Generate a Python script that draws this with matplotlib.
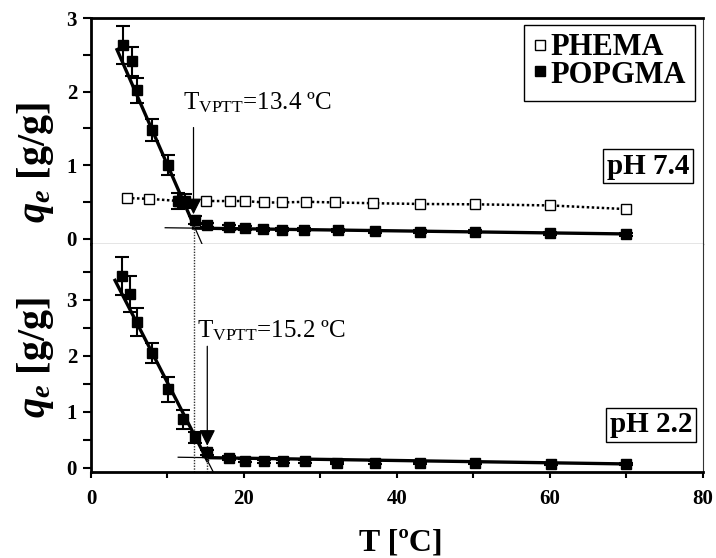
import matplotlib
matplotlib.use("Agg")
import matplotlib.pyplot as plt
from matplotlib.patches import Rectangle
from matplotlib.ticker import FixedLocator

plt.rcParams['font.family'] = ['Liberation Serif', 'DejaVu Serif']
plt.rcParams['mathtext.fontset'] = 'custom'
plt.rcParams['mathtext.rm'] = 'Liberation Serif'
plt.rcParams['mathtext.it'] = 'Liberation Serif:italic:bold'
plt.rcParams['mathtext.bf'] = 'Liberation Serif:bold'

# ---- pH 7.4 ----
T_pop_74 = [4.2, 5.3, 6.05, 8.0, 10.1, 11.4, 12.3, 13.6, 15.1, 18.1, 20.1, 22.5, 25.0, 27.8, 32.3, 37.1, 43.0, 50.2, 60.0, 70.0]
q_pop_74 = [2.63, 2.41, 2.02, 1.48, 1.00, 0.51, 0.51, 0.25, 0.18, 0.15, 0.14, 0.125, 0.12, 0.12, 0.115, 0.10, 0.095, 0.09, 0.07, 0.06]
e_pop_74 = [0.26, 0.20, 0.17, 0.15, 0.14, 0.11, 0.10, 0.05, 0.03, 0.03, 0.03, 0.02, 0.02, 0.02, 0.02, 0.02, 0.02, 0.02, 0.02, 0.02]

T_hema_74 = [4.7, 7.6, 11.5, 15.0, 18.2, 20.1, 22.6, 25.0, 28.1, 31.9, 36.9, 43.0, 50.2, 60.0, 70.0]
q_hema_74 = [0.55, 0.54, 0.51, 0.51, 0.51, 0.51, 0.49, 0.49, 0.50, 0.49, 0.48, 0.47, 0.465, 0.45, 0.40]

# ---- pH 2.2 ----
T_pop_22 = [4.1, 5.1, 6.0, 8.0, 10.1, 12.0, 13.6, 15.2, 18.1, 20.1, 22.6, 25.1, 28.0, 32.1, 37.1, 43.0, 50.2, 60.1, 70.0]
q_pop_22 = [3.42, 3.11, 2.61, 2.05, 1.40, 0.86, 0.54, 0.27, 0.17, 0.125, 0.11, 0.11, 0.11, 0.08, 0.09, 0.08, 0.08, 0.065, 0.065]
e_pop_22 = [0.34, 0.32, 0.25, 0.18, 0.22, 0.17, 0.10, 0.05, 0.03, 0.03, 0.02, 0.02, 0.02, 0.02, 0.02, 0.02, 0.02, 0.02, 0.02]

# linear fits (intercept, slope) and VPTT values
fit_low_74 = (3.379, -0.238)
fit_high_74 = (0.160, -0.0014)
fit_low_22 = (4.188, -0.267)
fit_high_22 = (0.208, -0.00205)
vptt_74 = 13.4
vptt_22 = 15.2

fig = plt.figure(figsize=(7.16, 5.58), dpi=100)
ax1 = fig.add_axes([0.1271, 0.5627, 0.8547, 0.4050])
ax2 = fig.add_axes([0.1271, 0.1541, 0.8547, 0.4086])

for ax in (ax1, ax2):
    ax.set_xlim(0, 80)
    ax.spines['left'].set_linewidth(2.0)
    ax.spines['right'].set_linewidth(0.8)
    ax.spines['right'].set_color('#333333')
    ax.tick_params(axis='y', which='both', direction='out', width=1.5, length=6,
                   labelsize=15, pad=4, right=False)

ax1.set_ylim(-0.075, 3.0)
ax2.set_ylim(-0.08, 4.0)

ax1.spines['top'].set_linewidth(2.0)
ax1.spines['bottom'].set_linewidth(0.9)
ax1.spines['bottom'].set_color('#333333')
ax1.tick_params(axis='x', which='both', bottom=False, top=False, labelbottom=False)
ax2.spines['top'].set_visible(False)
ax2.spines['bottom'].set_linewidth(2.0)

ax1.yaxis.set_major_locator(FixedLocator([0, 1, 2, 3]))
ax1.yaxis.set_minor_locator(FixedLocator([0.5, 1.5, 2.5]))
ax2.yaxis.set_major_locator(FixedLocator([0, 1, 2, 3]))
ax2.yaxis.set_minor_locator(FixedLocator([0.5, 1.5, 2.5, 3.5]))
ax2.xaxis.set_major_locator(FixedLocator([0, 20, 40, 60, 80]))
ax2.xaxis.set_minor_locator(FixedLocator([10, 30, 50, 70]))
ax2.tick_params(axis='x', which='both', direction='out', width=1.5, length=4,
                labelsize=15, pad=8, top=False)
for ax in (ax1, ax2):
    for lab in ax.get_yticklabels() + ax.get_xticklabels():
        lab.set_fontweight('bold')
        lab.set_family('Liberation Serif')


def draw_fits(ax, low, high, t0_low, t_end_low, t0_high, tv):
    # thin full extent of each fit
    ax.plot([t0_low, t_end_low], [low[0] + low[1] * t0_low, low[0] + low[1] * t_end_low],
            color='black', lw=0.9, zorder=2)
    ax.plot([t0_high, 70], [high[0] + high[1] * t0_high, high[0] + high[1] * 70],
            color='black', lw=0.9, zorder=2)
    # thick portions along the data
    ax.plot([t0_low, tv], [low[0] + low[1] * t0_low, low[0] + low[1] * tv],
            color='black', lw=2.4, zorder=2)
    ax.plot([tv, 70], [high[0] + high[1] * tv, high[0] + high[1] * 70],
            color='black', lw=2.4, zorder=2)


arrow_style = dict(arrowstyle='-|>,head_length=0.7,head_width=0.35', lw=0.9,
                   color='black', mutation_scale=14, shrinkA=0, shrinkB=0)

# ---- top panel ----
ax1.plot(T_hema_74, q_hema_74, linestyle=(0, (1, 1)), lw=1.8, color='black',
         marker='s', ms=7.5, mfc='white', mec='black', mew=1.0, zorder=3)
draw_fits(ax1, fit_low_74, fit_high_74, 3.4, 14.5, 9.7, vptt_74)
ax1.errorbar(T_pop_74, q_pop_74, yerr=e_pop_74, fmt='s', ms=7.5, mfc='black', mec='black',
             ecolor='black', elinewidth=1.5, capsize=5, capthick=1.5, zorder=4)

ax1.plot([vptt_74, vptt_74], [-0.075, 0.34], linestyle=(0, (1, 1)), color='#333333', lw=1.0)
ax1.annotate('', xy=(vptt_74, 0.33), xytext=(vptt_74, 1.51), arrowprops=arrow_style, zorder=5)
ax1.text(12.0, 1.75, 'T$_{\\mathrm{VPTT}}$=13.4 ºC', fontsize=18, va='baseline', ha='left')

ax1.text(0.910, 0.345, 'pH 7.4', transform=ax1.transAxes, fontsize=21, fontweight='bold',
         ha='center', va='center',
         bbox=dict(boxstyle='square,pad=0.12', fc='white', ec='black', lw=1.0))

# legend box
ax1.add_patch(Rectangle((0.7075, 0.634), 0.2794, 0.335, transform=ax1.transAxes,
                        fc='white', ec='black', lw=1.0, zorder=6))
ax1.plot([0.7337], [0.8805], transform=ax1.transAxes, marker='s', ms=6.5, mfc='white',
         mec='black', mew=1.0, zorder=7, clip_on=False)
ax1.plot([0.7337], [0.7655], transform=ax1.transAxes, marker='s', ms=6.5, mfc='black',
         mec='black', zorder=7, clip_on=False)
ax1.text(0.750, 0.8363, 'PHEMA', transform=ax1.transAxes, fontsize=22, fontweight='bold',
         va='baseline', ha='left', zorder=7)
ax1.text(0.750, 0.7124, 'POPGMA', transform=ax1.transAxes, fontsize=22, fontweight='bold',
         va='baseline', ha='left', zorder=7)

# ---- bottom panel ----
draw_fits(ax2, fit_low_22, fit_high_22, 3.14, 16.0, 11.4, vptt_22)
ax2.errorbar(T_pop_22, q_pop_22, yerr=e_pop_22, fmt='s', ms=7.5, mfc='black', mec='black',
             ecolor='black', elinewidth=1.5, capsize=5, capthick=1.5, zorder=4)
ax2.plot([vptt_74, vptt_74], [-0.08, 4.0], linestyle=(0, (1, 1)), color='#333333', lw=1.0)
ax2.plot([vptt_22, vptt_22], [-0.08, 0.40], linestyle=(0, (1, 1)), color='#333333', lw=1.0)
ax2.annotate('', xy=(vptt_22, 0.39), xytext=(vptt_22, 2.17), arrowprops=arrow_style, zorder=5)
ax2.text(13.86, 2.32, 'T$_{\\mathrm{VPTT}}$=15.2 ºC', fontsize=18, va='baseline', ha='left')
ax2.text(0.915, 0.208, 'pH 2.2', transform=ax2.transAxes, fontsize=21, fontweight='bold',
         ha='center', va='center',
         bbox=dict(boxstyle='square,pad=0.12', fc='white', ec='black', lw=1.0))

# axis labels
fig.text(0.0496, 0.708, '$q_e$ [g/g]', rotation=90, ha='center', va='center',
         fontsize=29, fontweight='bold')
fig.text(0.0496, 0.360, '$q_e$ [g/g]', rotation=90, ha='center', va='center',
         fontsize=29, fontweight='bold')
fig.text(401 / 716, 1 - 543 / 558, 'T [ºC]', ha='center', va='center',
         fontsize=23, fontweight='bold')

fig.savefig('out.png', dpi=100)
